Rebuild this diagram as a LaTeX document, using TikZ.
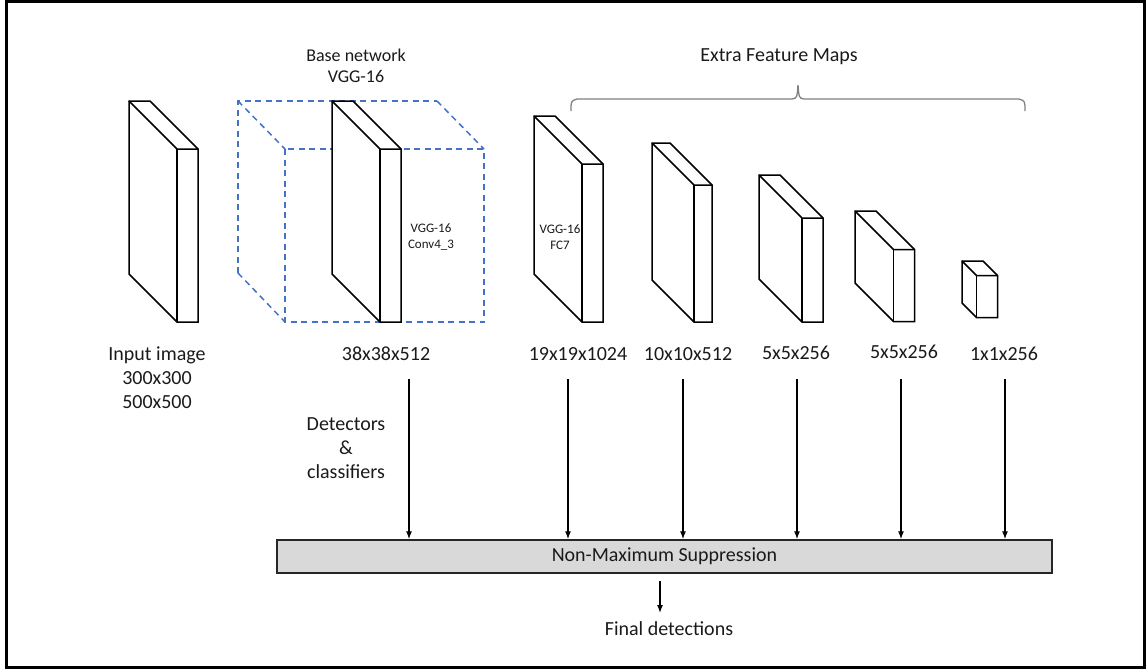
\documentclass[tikz,border=0pt]{standalone}
\usepackage{fontspec}
\setmainfont{Carlito}
\usetikzlibrary{arrows.meta}
\definecolor{dashblue}{HTML}{4472C4}
\definecolor{barfill}{HTML}{D9D9D9}
\definecolor{bracegray}{HTML}{808080}
\definecolor{ink}{HTML}{1A1A1A}

% A feature-map slab: back top-left corner (#1,#2), depth #3, thickness #4, height #5
\newcommand{\featslab}[5]{%
  \filldraw[slabline, fill=white] (#1,#2) -- ++(#4,0) -- ++(#3,#3) -- ++(0,#5)
    -- ++(-#4,0) -- ++(-#3,-#3) -- cycle;
  \draw[slabline] (#1,#2) -- ++(#3,#3) coordinate (slabD) -- ++(#4,0);
  \draw[slabline] (slabD) -- ++(0,#5);
}

\tikzset{
  slabline/.style={draw=black, line width=1.5pt, line join=miter},
  cubedash/.style={draw=dashblue, line width=1.5pt, dash pattern=on 6pt off 4.5pt},
  lbl/.style={font=\fontsize{20}{24}\selectfont, text=ink, inner sep=0pt, align=center},
  small/.style={font=\fontsize{13}{15.5}\selectfont, text=ink, inner sep=0pt, align=center},
  arr/.style={draw=black, line width=1.3pt, -{Latex[length=8pt,width=6pt]}},
}

\begin{document}
\begin{tikzpicture}[x=1pt, y=-1pt]
\useasboundingbox (0,0) rectangle (1148,670);

% outer frame
\draw[line width=3pt] (6.5,1.5) rectangle (1144,667);

% base network block (dashed cube)
\draw[cubedash] (238,273) -- (238,101) -- (437,101);
\draw[cubedash] (238,101) -- (285,149);
\draw[cubedash] (437,101) -- (484,149);
\draw[cubedash] (238,273) -- (285,322);
\draw[cubedash] (285,149) rectangle (484,322);

% feature-map slabs
\featslab{129}{101}{48}{21}{173}
\featslab{332}{101}{48}{21}{173}
\featslab{534}{116}{48}{21}{158}
\featslab{652}{143}{42}{18}{137}
\featslab{759}{175}{43}{21}{104}
\featslab{855}{211}{38.5}{21}{72}
\featslab{962}{261}{14.5}{21}{42}

% titles
\node[lbl, font=\fontsize{18}{21}\selectfont] (base) at (356,66) {Base network\\VGG-16};
\node[lbl] (extra) at (779,57) {Extra Feature Maps};
\draw[bracegray, line width=1.3pt]
  (571,111) .. controls (571,101) .. (577,99) -- (792,99)
  .. controls (797,98) .. (798,85) .. controls (799,98) .. (804,99)
  -- (1019,99) .. controls (1025,101) .. (1025,111);

% labels inside the base block
\node[small] (conv) at (431,237) {VGG-16\\Conv4\_3};
\node[small] (fc7) at (560,237) {VGG-16\\FC7};

% size labels
\node[lbl, align=center] (input) at (157,378) {Input image\\300x300\\500x500};
\node[lbl] (s38) at (386,354) {38x38x512};
\node[lbl] (s19) at (578,354) {19x19x1024};
\node[lbl] (s10) at (688,354) {10x10x512};
\node[lbl] (s5a) at (796,353) {5x5x256};
\node[lbl] (s5b) at (904,352) {5x5x256};
\node[lbl] (s1) at (1004,354) {1x1x256};

\node[lbl] (det) at (346,448) {Detectors\\\&\\classifiers};

% non-maximum suppression bar
\node[draw=black!85, line width=1.5pt, fill=barfill, minimum width=775pt,
      minimum height=33pt, inner sep=0pt, font=\fontsize{20}{24}\selectfont, text=ink]
  (nms) at (664.5,556.5) {Non-Maximum Suppression};

% detector arrows
\coordinate (a1) at (409,379);
\coordinate (a2) at (568,379);
\coordinate (a3) at (683,379);
\coordinate (a4) at (797,379);
\coordinate (a5) at (901,379);
\coordinate (a6) at (1005,379);
\foreach \a in {a1,a2,a3,a4,a5,a6}
  \draw[arr] (\a) -- (\a |- nms.north);

% output
\coordinate (f0) at (660,581);
\coordinate (f1) at (660,613);
\draw[arr] (f0) -- (f1);
\node[lbl] (final) at (669,629) {Final detections};
\end{tikzpicture}
\end{document}
